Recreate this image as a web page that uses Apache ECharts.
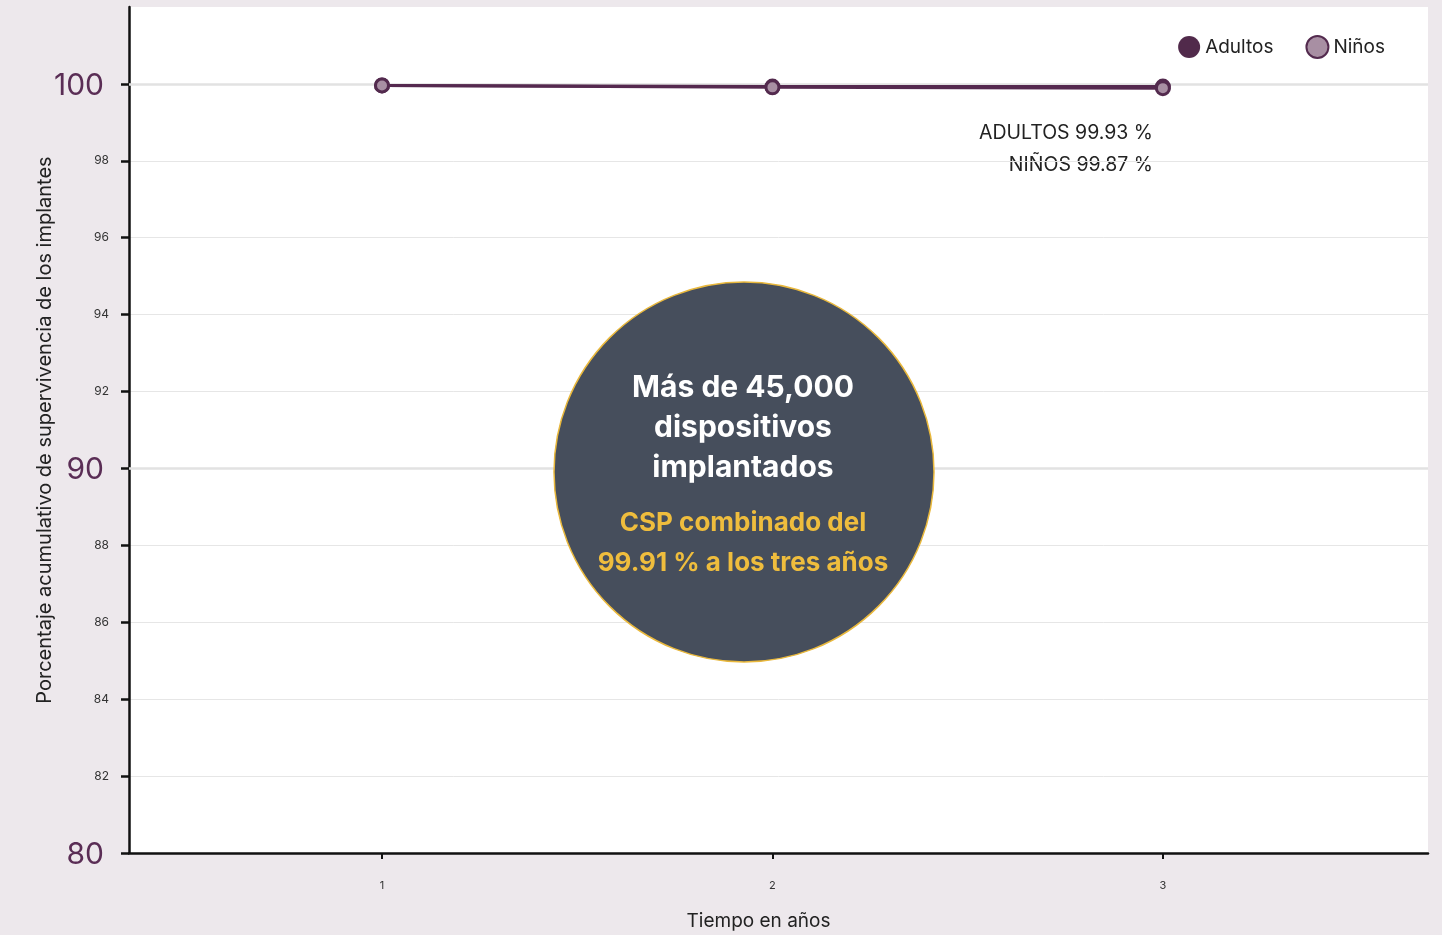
<!DOCTYPE html>
<html>
<head>
<meta charset="utf-8">
<script src="https://cdn.jsdelivr.net/npm/echarts@6/dist/echarts.min.js"></script>
<style>
html,body{margin:0;padding:0;background:#ede8ec;}
#chart{width:1442px;height:935px;}
</style>
</head>
<body>
<div id="chart"></div>
<script>
var years = [1, 2, 3];
var adultos = [99.96, 99.93, 99.93];
var ninos = [99.96, 99.91, 99.89];
var yTicks = [80, 82, 84, 86, 88, 90, 92, 94, 96, 98, 100];
var majorTicks = [80, 90, 100];
var seriesNames = ['Adultos', 'Niños'];
var annotAdultos = 'ADULTOS 99.93 %';
var annotNinos = 'NIÑOS 99.87 %';
var bubbleLines = ['Más de 45,000', 'dispositivos', 'implantados'];
var bubbleLines2 = ['CSP combinado del', '99.91 % a los tres años'];

var FONT = 'Inter, "Noto Sans", sans-serif';
var chart = echarts.init(document.getElementById('chart'));

function pairs(vals){ return years.map(function(y,i){ return [y, vals[i]]; }); }

var markerStyle = { color: '#a88fa3', borderColor: '#532a4e', borderWidth: 3 };

var option = {
  backgroundColor: '#ede8ec',
  animation: false,
  textStyle: { fontFamily: FONT },
  grid: { left: 129, right: 14, top: 7, bottom: 82, show: true, backgroundColor: '#ffffff', borderWidth: 0, outerBoundsMode: 'none', containLabel: false },
  legend: {
    right: 52, top: 30,
    itemWidth: 22, itemHeight: 22, itemGap: 32,
    icon: 'circle',
    textStyle: { fontSize: 19, color: '#222', fontFamily: FONT },
    data: [
      { name: seriesNames[0], itemStyle: { color: '#512a4b', borderWidth: 0 } },
      { name: seriesNames[1], itemStyle: { color: '#a88fa3', borderColor: '#532a4e', borderWidth: 2 } }
    ]
  },
  xAxis: {
    type: 'value', min: 0.352, max: 3.679,
    name: 'Tiempo en años', nameLocation: 'middle', nameGap: 59, nameMoveOverlap: false,
    nameTextStyle: { fontSize: 19, color: '#222', fontFamily: FONT, padding: [0, 40, 0, 0] },
    axisLine: { show: true, onZero: false, lineStyle: { color: '#111', width: 2.5 } },
    axisTick: { show: true, customValues: years, length: 6, lineStyle: { color: '#111', width: 2 } },
    axisLabel: { customValues: years, fontSize: 11, color: '#333', margin: 27 },
    splitLine: { show: false }
  },
  yAxis: {
    type: 'value', min: 80, max: 102, interval: 2,
    name: 'Porcentaje acumulativo de supervivencia de los implantes',
    nameLocation: 'middle', nameGap: 74, nameMoveOverlap: false,
    nameTextStyle: { fontSize: 20, color: '#222', fontFamily: FONT },
    axisLine: { show: true, lineStyle: { color: '#111', width: 2.5 } },
    axisTick: { show: true, customValues: yTicks, length: 8, lineStyle: { color: '#111', width: 2.5 } },
    axisLabel: {
      customValues: yTicks,
      margin: 20,
      formatter: function(v){
        return majorTicks.indexOf(v) >= 0 ? '{big|' + v + '}' : '{small|' + v + '}';
      },
      rich: {
        big: { fontSize: 30, color: '#5a2d55', fontFamily: FONT, padding: [4, 5, 0, 0] },
        small: { fontSize: 12, color: '#333', fontFamily: FONT }
      }
    },
    splitLine: { show: true, lineStyle: { color: '#e6e6e6', width: 1 } }
  },
  series: [
    {
      name: seriesNames[0], type: 'line', data: pairs(adultos),
      symbol: 'circle', symbolSize: 13,
      lineStyle: { color: '#55294f', width: 3 },
      itemStyle: markerStyle,
      z: 3,
      markLine: {
        silent: true, symbol: 'none', label: { show: false },
        lineStyle: { color: '#e2e2e2', width: 2.5, type: 'solid' },
        data: majorTicks.slice(1).map(function(v){ return { yAxis: v }; }),
        z: 1
      }
    },
    {
      name: seriesNames[1], type: 'line', data: pairs(ninos),
      symbol: 'circle', symbolSize: 13,
      lineStyle: { color: '#55294f', width: 3 },
      itemStyle: markerStyle,
      z: 4
    }
  ],
  graphic: [
    { type: 'text', right: 1442 - 1153, top: 123, style: { text: annotAdultos, font: '19.5px ' + FONT, fill: '#222', textAlign: 'right' } },
    { type: 'text', right: 1442 - 1153, top: 155, style: { text: annotNinos, font: '19.5px ' + FONT, fill: '#222', textAlign: 'right' } },
    { type: 'circle', shape: { cx: 744, cy: 472, r: 190 }, style: { fill: '#464e5c', stroke: '#e9b83c', lineWidth: 1.5 }, z: 10 },
    { type: 'text', x: 743, y: 388, z: 11, style: { text: bubbleLines[0], font: 'bold 30px ' + FONT, fill: '#ffffff', textAlign: 'center', textVerticalAlign: 'middle' } },
    { type: 'text', x: 743, y: 428, z: 11, style: { text: bubbleLines[1], font: 'bold 30px ' + FONT, fill: '#ffffff', textAlign: 'center', textVerticalAlign: 'middle' } },
    { type: 'text', x: 743, y: 468, z: 11, style: { text: bubbleLines[2], font: 'bold 30px ' + FONT, fill: '#ffffff', textAlign: 'center', textVerticalAlign: 'middle' } },
    { type: 'text', x: 743, y: 523, z: 11, style: { text: bubbleLines2[0], font: 'bold 26px ' + FONT, fill: '#efbd3d', textAlign: 'center', textVerticalAlign: 'middle' } },
    { type: 'text', x: 743, y: 563, z: 11, style: { text: bubbleLines2[1], font: 'bold 26px ' + FONT, fill: '#efbd3d', textAlign: 'center', textVerticalAlign: 'middle' } }
  ]
};
chart.setOption(option);
</script>
</body>
</html>
